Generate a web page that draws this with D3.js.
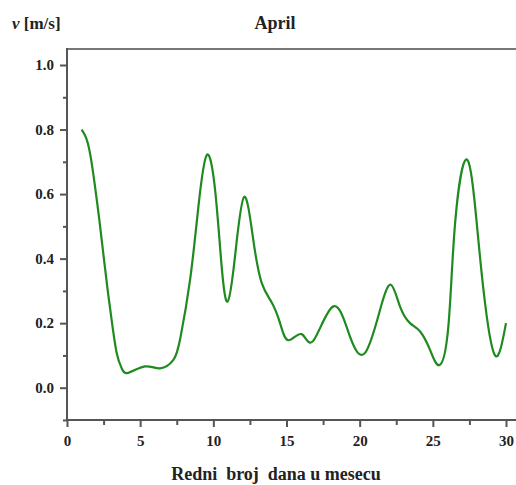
<!DOCTYPE html>
<html><head><meta charset="utf-8">
<script src="https://cdn.jsdelivr.net/npm/d3@7"></script>
<style>body{margin:0;background:#fff}svg{display:block}</style>
</head><body>
<script>
const days = [1.0,1.3,1.6,1.91,2.21,2.48,2.75,3.05,3.4,3.74,4.19,5.33,6.36,7.27,7.75,8.41,8.98,9.55,10.12,10.57,10.98,11.48,12.1,12.73,13.31,13.99,14.56,15.13,16.04,16.84,18.2,19.34,20.37,21.39,22.13,22.76,23.44,24.13,24.81,25.45,26.06,26.52,27.27,27.89,28.46,29.25,30.0];
const speeds = [0.80,0.775,0.72,0.625,0.52,0.416,0.313,0.21,0.107,0.06,0.046,0.066,0.06,0.086,0.155,0.334,0.561,0.721,0.613,0.375,0.267,0.406,0.591,0.458,0.324,0.264,0.2,0.147,0.166,0.146,0.252,0.158,0.108,0.241,0.319,0.251,0.2,0.174,0.117,0.07,0.189,0.509,0.707,0.561,0.303,0.1,0.2];
const xTicks = [0,5,10,15,20,25,30];
const yTicks = [0.0,0.2,0.4,0.6,0.8,1.0];
const titleText = "April";
const yLabel = "[m/s]";
const xLabel = "Redni  broj  dana u mesecu";

const W=516,H=485;
const svg=d3.select("body").append("svg").attr("width",W).attr("height",H);
const x=d3.scaleLinear().domain([0,30]).range([67,506]);
const y=d3.scaleLinear().domain([0,1]).range([387.7,65]);
const yBottom=y(-0.1), yTop=49;
const axisCol="#555";
const font="'Liberation Serif','Times New Roman',serif";

svg.append("line").attr("x1",67).attr("x2",W).attr("y1",yTop).attr("y2",yTop)
  .attr("stroke","#777").attr("stroke-width",2);

const gy=svg.append("g").attr("transform","translate(67,0)");
gy.call(d3.axisLeft(y).tickValues([-0.1,0.1,0.3,0.5,0.7,0.9]).tickSize(4).tickFormat(""));
const gy2=svg.append("g").attr("transform","translate(67,0)");
gy2.call(d3.axisLeft(y).tickValues(yTicks).tickSize(7).tickPadding(6).tickFormat(d3.format(".1f")));
[gy,gy2].forEach(g=>{g.select(".domain").remove();g.selectAll("line").attr("stroke",axisCol).attr("stroke-width",2);});
gy2.selectAll("text").attr("font-family",font).attr("font-weight","bold").attr("font-size",15).attr("fill","#222");
svg.append("line").attr("x1",67).attr("x2",67).attr("y1",yTop-1).attr("y2",yBottom+1).attr("stroke",axisCol).attr("stroke-width",2);

const gx=svg.append("g").attr("transform",`translate(0,${yBottom})`);
gx.call(d3.axisBottom(x).tickValues(d3.range(2.5,31,5)).tickSize(5).tickFormat(""));
const gx2=svg.append("g").attr("transform",`translate(0,${yBottom})`);
gx2.call(d3.axisBottom(x).tickValues(xTicks).tickSize(7).tickPadding(8).tickFormat(d3.format("d")));
[gx,gx2].forEach(g=>{g.select(".domain").remove();g.selectAll("line").attr("stroke",axisCol).attr("stroke-width",2);});
gx2.selectAll("text").attr("font-family",font).attr("font-weight","bold").attr("font-size",15).attr("fill","#222");
svg.append("line").attr("x1",66).attr("x2",W).attr("y1",yBottom).attr("y2",yBottom).attr("stroke",axisCol).attr("stroke-width",2);

const pts=days.map((d,i)=>[d,speeds[i]]);
svg.append("path").datum(pts)
  .attr("d",d3.line().x(d=>x(d[0])).y(d=>y(d[1])).curve(d3.curveNatural))
  .attr("fill","none").attr("stroke","#1f8a1f").attr("stroke-width",2.2);

svg.append("text").attr("x",275).attr("y",29).attr("text-anchor","middle")
  .attr("font-family",font).attr("font-weight","bold").attr("font-size",18).attr("fill","#222").text(titleText);
const yl=svg.append("text").attr("x",12).attr("y",29)
  .attr("font-family",font).attr("font-weight","bold").attr("font-size",17).attr("fill","#222");
yl.append("tspan").attr("font-style","italic").text("v");
yl.append("tspan").text(" "+yLabel);
svg.append("text").attr("x",276).attr("y",480).attr("text-anchor","middle")
  .style("white-space","pre")
  .attr("font-family",font).attr("font-weight","bold").attr("font-size",18).attr("fill","#222").text(xLabel);
</script>
</body></html>
